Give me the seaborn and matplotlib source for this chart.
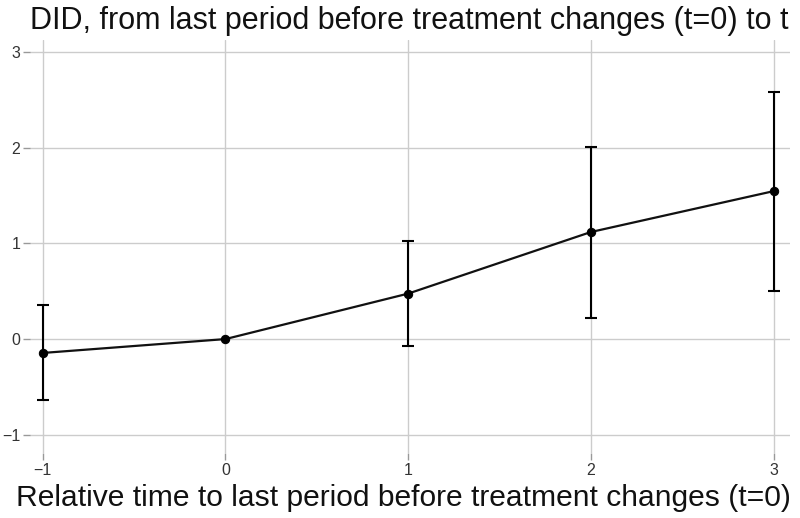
import numpy as np
import pandas as pd
import seaborn as sns
import matplotlib.pyplot as plt

# Event-study style DID estimates
rel_time = [-1, 0, 1, 2, 3]
estimate = [-0.145, 0.0, 0.475, 1.118, 1.545]
ci_low = [-0.64, 0.0, -0.07, 0.22, 0.505]
ci_high = [0.357, 0.0, 1.025, 2.01, 2.585]

df = pd.DataFrame({"t": rel_time, "did": estimate, "lo": ci_low, "hi": ci_high})

sns.set_theme(style="whitegrid")
plt.rcParams['font.family'] = ['Liberation Sans', 'DejaVu Sans']

fig = plt.figure(figsize=(8, 5.18), dpi=100)
ax = fig.add_axes([0.0375, 0.1255, 0.95, 0.7975])

# error bars (skip the reference period with zero width)
mask = df["hi"] > df["lo"]
ax.errorbar(df.loc[mask, "t"], df.loc[mask, "did"],
            yerr=[df.loc[mask, "did"] - df.loc[mask, "lo"], df.loc[mask, "hi"] - df.loc[mask, "did"]],
            fmt="none", ecolor="black", elinewidth=1.5, capsize=4, capthick=1.5, zorder=3)
sns.lineplot(data=df, x="t", y="did", ax=ax, color="#111111", linewidth=1.6,
             marker="o", markersize=6, markeredgecolor="black", markerfacecolor="black", zorder=4)

ax.set_xlim(-1.07, 3.09)
ax.set_ylim(-1.19, 3.125)
ax.set_xticks(rel_time)
ax.set_yticks([-1, 0, 1, 2, 3])
ax.set_xticklabels(["\u22121", "0", "1", "2", "3"])
ax.set_yticklabels(["\u22121", "0", "1", "2", "3"])
for s in ax.spines.values():
    s.set_visible(False)
ax.grid(True, color="#cccccc", linewidth=1.0)
ax.tick_params(axis="both", which="both", length=5, width=1, color="#999999",
               labelsize=11.5, labelcolor="#333333", pad=2, direction="out")
ax.tick_params(left=True, bottom=True)

ax.set_xlabel("Relative time to last period before treatment changes (t=0)", fontsize=21.6, color="#111111", labelpad=4)
ax.xaxis.set_label_coords(0.4914, -0.075)
ax.set_ylabel("")
fig.text(0.037, 0.988, "DID, from last period before treatment changes (t=0) to t",
         fontsize=22, color="#111111", ha="left", va="top")

fig.savefig("out.png", dpi=100, facecolor="white")
